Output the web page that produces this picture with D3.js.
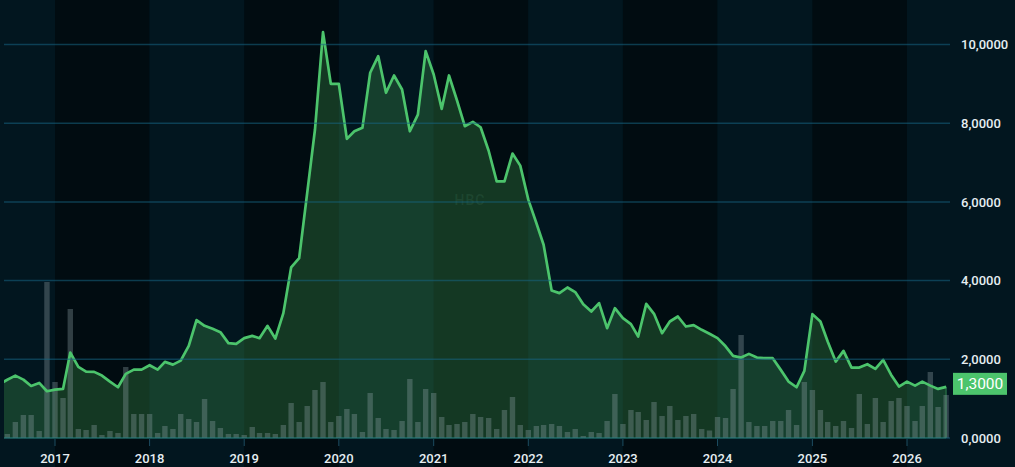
<!DOCTYPE html>
<html><head><meta charset="utf-8">
<script src="https://cdn.jsdelivr.net/npm/d3@7/dist/d3.min.js"></script>
<style>
html,body{margin:0;padding:0;background:#02161f;}
svg{display:block;font-family:Roboto,"Noto Sans",sans-serif;}
</style>
</head><body>
<svg id="chart" width="1015" height="467"></svg>
<script>
// ---- data ----
const firstMonth = "2016-06-01";
const prices = [
  1.370,1.480,1.586,1.484,1.323,1.400,1.188,
  1.229,1.247,2.171,1.807,1.687,1.680,1.586,1.433,1.290,1.629,1.738,1.738,
  1.850,1.738,1.934,1.865,1.967,2.341,2.995,2.850,2.774,2.690,2.410,2.392,
  2.537,2.596,2.537,2.850,2.527,3.174,4.334,4.573,6.228,7.839,10.315,9.001,
  9.001,7.602,7.795,7.882,9.282,9.704,8.773,9.213,8.857,7.795,8.220,9.831,
  9.238,8.365,9.213,8.577,7.923,8.034,7.897,7.300,6.523,6.523,7.228,6.922,
  6.057,5.464,4.912,3.749,3.682,3.825,3.708,3.402,3.215,3.428,2.791,3.300,
  3.046,2.893,2.579,3.410,3.156,2.664,2.961,3.088,2.833,2.867,2.749,2.650,
  2.537,2.330,2.087,2.044,2.138,2.044,2.028,2.028,1.731,1.433,1.290,1.705,
  3.148,2.961,2.451,1.942,2.214,1.789,1.789,1.875,1.756,1.985,1.603,1.306,
  1.433,1.331,1.433,1.331,1.247,1.300
];
const volumes = [
  5,4,16,23,23,7,156,
  56,40,129,9,8,13,3,7,5,71,24,24,
  24,5,12,9,24,19,16,39,17,10,4,4,
  3,11,5,5,4,13,35,16,32,48,56,16,
  22,29,24,6,45,20,9,8,17,59,16,49,
  45,21,13,14,16,24,21,20,9,28,41,13,
  8,12,13,14,12,6,9,2,6,5,17,44,
  14,28,26,18,36,22,32,18,22,24,9,7.5,
  21,20,49,103,16,12,12,17,17,28,13,56,
  48,28,16,12,17,10,44,14,40,16,37,40,
  32,17,32,66,31,43
];
const priceTicks = [0,2,4,6,8,10];
const yearTicks = [2017,2018,2019,2020,2021,2022,2023,2024,2025,2026];
const bandYears = [2016,2017,2018,2019,2020,2021,2022,2023,2024,2025,2026];
const watermark = "HBC";

// ---- build ----
const months = prices.map((_, i) => d3.timeMonth.offset(new Date(firstMonth + "T00:00:00"), i));
const data = months.map((d, i) => ({date: d, price: prices[i], vol: volumes[i]}));
const fmt = v => d3.format(".4f")(v).replace(".", ",");

const W = 1015, H = 467;
const plotL = 4, plotR = 950, baseY = 438;
const svg = d3.select("#chart");

const x = d3.scaleTime()
  .domain([new Date(2017,0,1), new Date(2026,0,1)])
  .range([55, 907]);
const y = d3.scaleLinear().domain([0, 10]).range([baseY, 44.5]);
const v = d3.scaleLinear().domain([0, 160]).range([0, 160]);

// bands
svg.append("g").selectAll("rect").data(bandYears).join("rect")
  .attr("x", d => Math.max(0, x(new Date(d,0,1))))
  .attr("width", d => {
    const a = Math.max(0, x(new Date(d,0,1)));
    const b = d === 2026 ? W : x(new Date(d+1,0,1));
    return b - a;
  })
  .attr("y", 0).attr("height", H)
  .attr("fill", d => d % 2 === 0 ? "#02161f" : "#010c11");

const defs = svg.append("defs");
defs.append("clipPath").attr("id", "plot")
  .append("rect").attr("x", plotL).attr("y", 0)
  .attr("width", plotR - plotL).attr("height", baseY + 1);

const g = svg.append("g").attr("clip-path", "url(#plot)");

// area
const area = d3.area().x(d => x(d.date)).y0(y(0)).y1(d => y(d.price));
g.append("path").datum(data).attr("d", area)
  .attr("fill", "rgba(65,159,79,0.30)")
  .attr("stroke", "rgba(76,196,110,0.55)").attr("stroke-width", 1);

// watermark
svg.append("text").attr("x", 470).attr("y", 205)
  .attr("text-anchor", "middle").attr("font-size", 14).attr("font-weight", 700)
  .attr("letter-spacing", 1)
  .attr("fill", "rgba(120,200,170,0.09)").text(watermark);

// gridlines
svg.append("g").selectAll("line").data(priceTicks).join("line")
  .attr("x1", plotL).attr("x2", plotR)
  .attr("y1", d => y(d)).attr("y2", d => y(d))
  .attr("stroke", "rgba(22,100,130,0.55)").attr("stroke-width", 1.5);

// volume bars
const bw = 5.4;
g.append("g").selectAll("rect").data(data).join("rect")
  .attr("x", d => x(d.date) - bw / 2)
  .attr("width", bw)
  .attr("y", d => baseY - v(d.vol))
  .attr("height", d => v(d.vol))
  .attr("fill", "rgba(150,168,172,0.33)");

// price line
const line = d3.line().x(d => x(d.date)).y(d => y(d.price));
g.append("path").datum(data).attr("d", line)
  .attr("fill", "none").attr("stroke", "#4cc46c")
  .attr("stroke-width", 2.7).attr("stroke-linejoin", "round");

// x axis ticks & labels
const xa = svg.append("g");
xa.selectAll("line").data(yearTicks).join("line")
  .attr("x1", d => x(new Date(d,0,1))).attr("x2", d => x(new Date(d,0,1)))
  .attr("y1", baseY + 1).attr("y2", baseY + 8)
  .attr("stroke", "#1c4c60").attr("stroke-width", 1);
xa.selectAll("text").data(yearTicks).join("text")
  .attr("x", d => x(new Date(d,0,1))).attr("y", 463)
  .attr("text-anchor", "middle").attr("font-size", 13).attr("font-weight", 500)
  .attr("fill", "#e6eef2").text(d => d);

// y axis labels
svg.append("g").selectAll("text").data(priceTicks).join("text")
  .attr("x", 961).attr("y", d => y(d)).attr("dy", "0.36em")
  .attr("font-size", 13).attr("font-weight", 500).attr("fill", "#e6eef2").text(d => fmt(d));

// last price label
const last = data[data.length - 1];
const ly = y(last.price) - 3;
svg.append("rect").attr("x", 953).attr("y", ly - 11).attr("width", 54).attr("height", 22)
  .attr("fill", "#4cc46c");
svg.append("text").attr("x", 980).attr("y", ly).attr("dy", "0.36em")
  .attr("text-anchor", "middle").attr("font-size", 15.5).attr("fill", "#ffffff")
  .text(fmt(last.price));
</script>
</body></html>
